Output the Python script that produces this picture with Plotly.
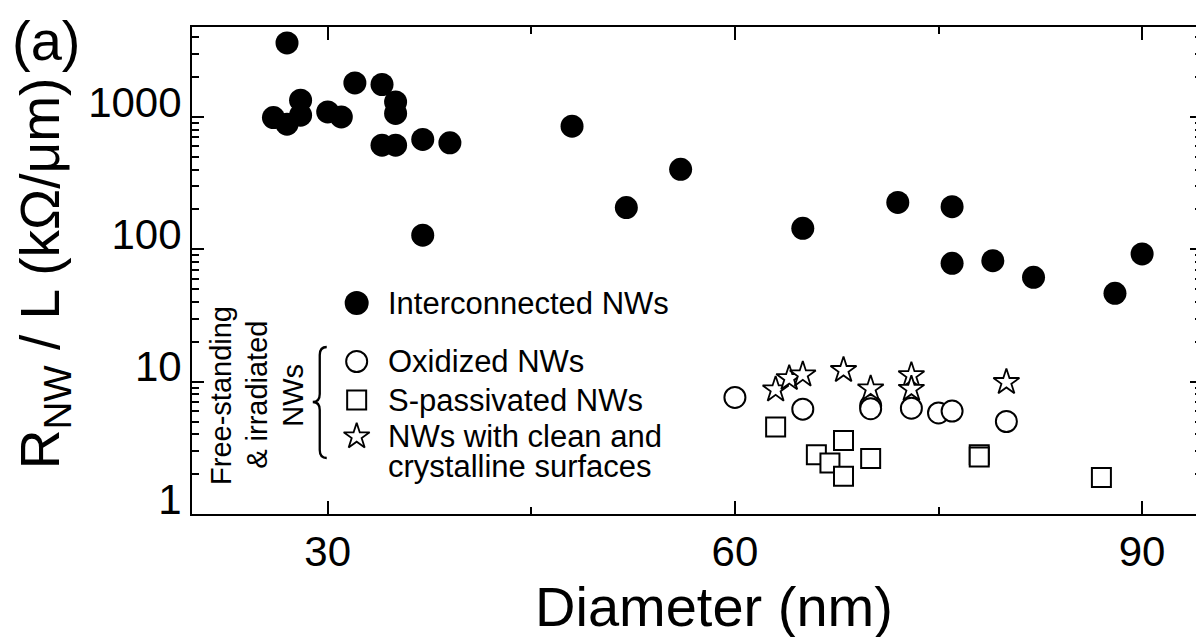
import plotly.graph_objects as go

# ---------------- data ----------------
inter_d = [26, 27, 27, 28, 28, 30, 31, 32, 34, 34, 35, 35, 35, 37, 37, 39,
           48, 52, 56, 65, 72, 76, 76, 79, 82, 88, 90]
inter_r = [991, 3625, 883, 1340, 1032, 1093, 1000, 1810, 1760, 612, 1300, 1063, 612, 676, 128, 638,
           853, 207, 402, 144, 226, 210, 78.4, 82, 61.5, 46.5, 92.2]

ox_d = [60, 65, 70, 70, 73, 75, 76, 80]
ox_r = [7.6, 6.2, 6.6, 6.25, 6.3, 5.8, 6.0, 5.0]

sq_d = [63, 66, 67, 68, 68, 70, 78, 78, 87]
sq_r = [4.54, 2.80, 2.43, 3.59, 1.93, 2.63, 2.80, 2.70, 1.89]

st_d = [63, 64, 65, 68, 70, 73, 73, 80]
st_r = [8.7, 10.6, 11.3, 12.2, 8.85, 11.15, 8.8, 9.9]

x_ticks = [30, 60, 90]
y_ticks = [1, 10, 100, 1000]
y_ticktext = ["1", "10", "100", "1000"]
y_minor = [k * 10 ** e for e in range(0, 4) for k in range(2, 10)]

legend_labels = ["Interconnected NWs", "Oxidized NWs", "S-passivated NWs",
                 "NWs with clean and", "crystalline surfaces"]
group_label = ["Free-standing", "& irradiated", "NWs"]

# ---------------- layout constants (screen pixels) ----------------
W, H = 1204, 637
OFF = 8                      # page body margin
L, R, T, B = 192, 1204, 27, 514
FONT = "Liberation Sans, Arial, sans-serif"


def px(x):
    return (x - L) / (R - L)


def py(y):
    return (B - y) / (B - T)


fig = go.Figure()


def add_series(x, y, symbol, size, fill, lw, xa="x", ya="y"):
    fig.add_trace(go.Scatter(
        x=x, y=y, mode="markers", showlegend=False, hoverinfo="skip",
        xaxis=xa, yaxis=ya,
        marker=dict(symbol=symbol, size=size, color=fill, opacity=1,
                    line=dict(color="black", width=lw))))


add_series(inter_d, inter_r, "circle", 23, "black", 0)
add_series(ox_d, ox_r, "circle", 21, "white", 2)
add_series(sq_d, sq_r, "square", 19, "white", 2)
add_series(st_d, st_r, "star", 19.5, "white", 1.8)

# legend keys drawn on an overlay pixel-space axis pair
key_x = 357
add_series([key_x], [303], "circle", 24, "black", 0, "x2", "y2")
add_series([key_x], [361.5], "circle", 21, "white", 2, "x2", "y2")
add_series([key_x], [400], "square", 19, "white", 2, "x2", "y2")
add_series([key_x], [436.5], "star", 19.5, "white", 1.8, "x2", "y2")

annotations = []
# legend text
text_y = [303, 361.5, 400, 436.5, 466.5]
for t, yy in zip(legend_labels, text_y):
    annotations.append(dict(text=t, x=px(386), y=py(yy), xref="paper", yref="paper",
                            xanchor="left", yanchor="middle", showarrow=False,
                            font=dict(size=31, color="black", family=FONT)))
# vertical group label
for t, xx in zip(group_label, [221, 257, 293]):
    annotations.append(dict(text=t, x=px(xx), y=py(395), xref="paper", yref="paper",
                            xanchor="center", yanchor="middle", showarrow=False,
                            textangle=-90,
                            font=dict(size=29, color="black", family=FONT)))
# axis titles and panel label
annotations.append(dict(text="R<sub>NW</sub> / L (kΩ/μm)", x=px(44), y=py(273),
                        xref="paper", yref="paper", xanchor="center", yanchor="middle",
                        textangle=-90, showarrow=False,
                        font=dict(size=55, color="black", family=FONT)))
annotations.append(dict(text="Diameter (nm)", x=px(715), y=py(606),
                        xref="paper", yref="paper", xanchor="center", yanchor="middle",
                        showarrow=False, font=dict(size=56, color="black", family=FONT)))
annotations.append(dict(text="(a)", x=px(46), y=py(41),
                        xref="paper", yref="paper", xanchor="center", yanchor="middle",
                        showarrow=False, font=dict(size=56, color="black", family=FONT)))

# curly brace
bx, tip, top, bot, mid = 320, 313, 347, 458, 402
pts = [
    ("M", px(bx + 7), py(top)),
    ("Q", px(bx), py(top), px(bx), py(top + 8)),
    ("L", px(bx), py(mid - 8)),
    ("Q", px(bx), py(mid), px(tip), py(mid)),
    ("Q", px(bx), py(mid), px(bx), py(mid + 8)),
    ("L", px(bx), py(bot - 8)),
    ("Q", px(bx), py(bot), px(bx + 7), py(bot)),
]
path = ""
for p in pts:
    cmd = p[0]
    nums = p[1:]
    coords = " ".join(f"{nums[i]:.5f},{nums[i + 1]:.5f}" for i in range(0, len(nums), 2))
    path += f"{cmd} {coords} "
shapes = [dict(type="path", path=path.strip(), xref="paper", yref="paper",
               line=dict(color="black", width=2.3))]

axis_common = dict(showline=True, linewidth=2, linecolor="black", mirror="ticks",
                   ticks="inside", tickcolor="black", showgrid=False, zeroline=False,
                   tickfont=dict(size=42, color="black", family=FONT))

fig.update_layout(
    width=W - OFF, height=H - OFF, autosize=False,
    margin=dict(l=L - OFF, r=W - R, t=T - OFF, b=H - B, pad=0),
    paper_bgcolor="white", plot_bgcolor="white",
    font=dict(family=FONT, color="black"),
    xaxis=dict(range=[20, 20 + (R - L) / 13.6], tickmode="array", tickvals=x_ticks,
               ticklen=13, tickwidth=2, ticklabelstandoff=0,
               minor=dict(dtick=15, tick0=0, ticks="inside", ticklen=7, tickwidth=1.5,
                          tickcolor="black", showgrid=False),
               **axis_common),
    yaxis=dict(type="log", range=[0, 3.68], tickmode="array", tickvals=y_ticks,
               ticktext=y_ticktext, ticklen=12, tickwidth=2, ticklabelstandoff=0,
               ticklabelshift=-15,
               minor=dict(tickmode="array", tickvals=y_minor, ticks="inside", ticklen=7,
                          tickwidth=1.5, tickcolor="black", showgrid=False),
               **axis_common),
    xaxis2=dict(overlaying="x", range=[L, R], visible=False, fixedrange=True),
    yaxis2=dict(overlaying="y", range=[B, T], visible=False, fixedrange=True),
    annotations=annotations,
    shapes=shapes,
)

fig.write_html("out.html")
